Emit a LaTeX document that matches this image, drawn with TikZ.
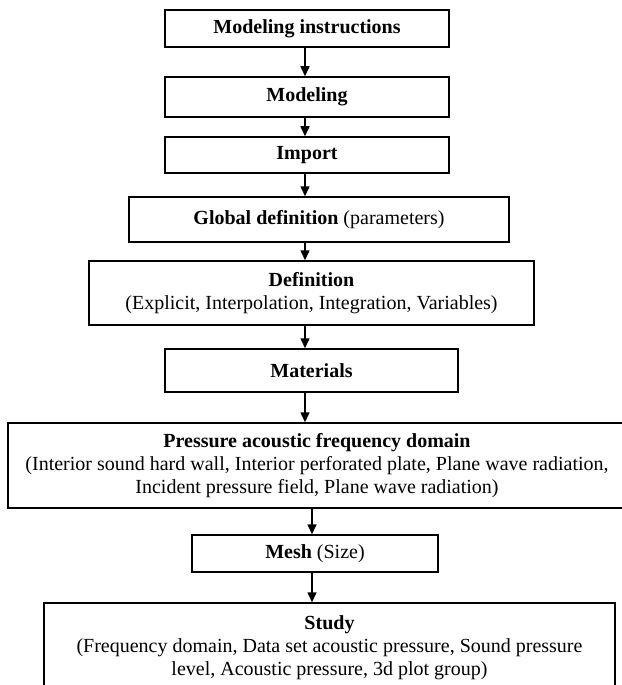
\documentclass[tikz,border=0pt]{standalone}
\usepackage{fontspec}
\setmainfont{Liberation Serif}
\usetikzlibrary{arrows.meta}
\tikzset{
  box/.style={draw=black, line width=1.5bp, inner sep=0pt, align=center,
    font=\fontsize{20bp}{23bp}\selectfont},
  arr/.style={draw=black, line width=1.5bp, -{Triangle[length=10bp,width=9bp]}}
}
\begin{document}
\begin{tikzpicture}[x=1bp,y=-1bp]
\useasboundingbox (0,0) rectangle (622,685);
\node[box, minimum width=284bp, minimum height=37bp] (m1) at (307,28.5) {\textbf{Modeling instructions}};
\node[box, minimum width=284bp, minimum height=40bp] (m2) at (307,97) {\textbf{Modeling}};
\node[box, minimum width=284bp, minimum height=36bp] (m3) at (307,155) {\textbf{Import}};
\node[box, minimum width=380bp, minimum height=45bp] (g) at (319,219.5) {\textbf{Global definition} (parameters)};
\node[box, minimum width=445bp, minimum height=64bp] (d) at (311.5,293) {\textbf{Definition}\\(Explicit, Interpolation, Integration, Variables)};
\node[box, minimum width=293bp, minimum height=43bp] (mat) at (311.5,370.5) {\textbf{Materials}};
\node[box, minimum width=618bp, minimum height=85bp] (p) at (317,465.5) {\textbf{Pressure acoustic frequency domain}\\(Interior sound hard wall, Interior perforated plate, Plane wave radiation,\\Incident pressure field, Plane wave radiation)};
\node[box, minimum width=246bp, minimum height=37bp] (mesh) at (315,553.5) {\textbf{Mesh} (Size)};
\node[box, minimum width=571bp, minimum height=90bp] (s) at (329.5,648) {\textbf{Study}\\(Frequency domain, Data set acoustic pressure, Sound pressure\\level, Acoustic pressure, 3d plot group)};
\coordinate (ax1) at (305,0);
\coordinate (ax2) at (312,0);
\draw[arr] (m1.south -| ax1) -- (m2.north -| ax1);
\draw[arr] (m2.south -| ax1) -- (m3.north -| ax1);
\draw[arr] (m3.south -| ax1) -- (g.north -| ax1);
\draw[arr] (g.south -| ax1) -- (d.north -| ax1);
\draw[arr] (d.south -| ax1) -- (mat.north -| ax1);
\draw[arr] (mat.south -| ax1) -- (p.north -| ax1);
\draw[arr] (p.south -| ax2) -- (mesh.north -| ax2);
\draw[arr] (mesh.south -| ax2) -- (s.north -| ax2);
\end{tikzpicture}
\end{document}
